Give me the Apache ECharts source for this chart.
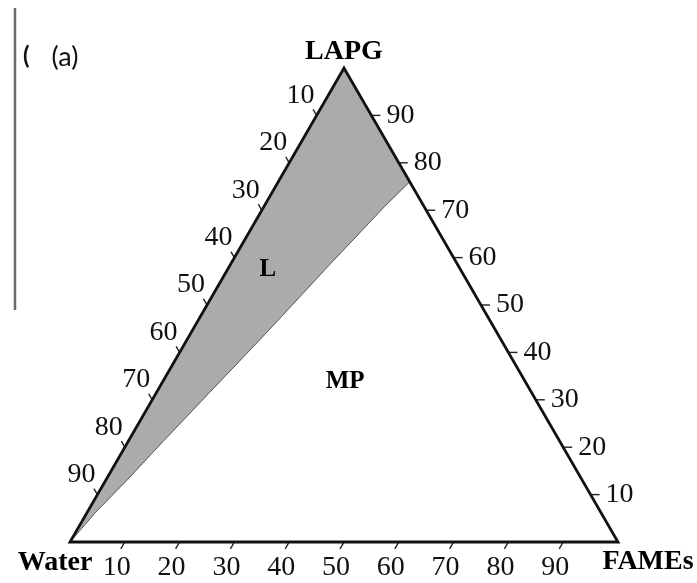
<!DOCTYPE html>
<html><head><meta charset="utf-8">
<script src="https://cdn.jsdelivr.net/npm/echarts@6/dist/echarts.min.js"></script>
<style>html,body{margin:0;padding:0;background:#fff}#c{width:697px;height:583px}</style>
</head><body><div id="c"></div>
<script>
// ---- data (ternary percentages) ----
const vertexNames = ['Water', 'FAMEs', 'LAPG'];
const vertexLAPG  = [0, 0, 100];
const vertexFAMEs = [0, 100, 0];
const tickValues  = [10, 20, 30, 40, 50, 60, 70, 80, 90];
// boundary of the L region, from the Water corner up to the LAPG–FAMEs side
const boundaryLAPG  = [0, 6.1, 13.1, 20, 31.4, 42, 47.5, 57.8, 70.7, 76];
const boundaryFAMEs = [0, 1.5, 3.9, 6, 9.65, 13.1, 14.8, 17.9, 22, 24];
const regionNames = ['L', 'MP'];
const regionLAPG  = [57.4, 33.8];
const regionFAMEs = [7.4, 33.3];

// ---- ternary -> cartesian (axis units) ----
const SQ = Math.sqrt(3) / 2;
function toXY(lapg, fames) { return [fames + lapg / 2, lapg * SQ]; }

const serif = '"Liberation Serif","DejaVu Serif",serif';

const chart = echarts.init(document.getElementById('c'), null, {renderer: 'canvas'});

const regionPts = boundaryLAPG.map((l, i) => toXY(l, boundaryFAMEs[i]));
regionPts.push(toXY(100, 0));

const triPts = [0, 1, 2].map(i => toXY(vertexLAPG[i], vertexFAMEs[i]));

const bottomTicks = tickValues.map(v => toXY(0, v));           // FAMEs %
const leftTicks   = tickValues.map(v => toXY(100 - v, 0));     // Water %
const rightTicks  = tickValues.map(v => toXY(v, 100 - v));     // LAPG %

function tickSeries(bases, dx, dy) {
  return {
    type: 'custom', coordinateSystem: 'cartesian2d', silent: true, z: 4,
    data: bases,
    renderItem: function (params, api) {
      const p = api.coord([api.value(0), api.value(1)]);
      return {type: 'line', shape: {x1: p[0], y1: p[1], x2: p[0] + dx, y2: p[1] + dy},
              style: {stroke: '#222', lineWidth: 1.4}};
    }
  };
}
function labelSeries(bases, values, ox, oy) {
  return {
    type: 'scatter', symbolSize: 0, silent: true, z: 6,
    itemStyle: {opacity: 1},
    data: bases.map((b, i) => ({value: b, name: String(values[i])})),
    label: {show: true, position: 'inside', offset: [ox, oy], opacity: 1,
            formatter: p => p.name, color: '#111', textBorderWidth: 0,
            fontFamily: serif, fontSize: 28, fontWeight: 'normal',
            align: 'center', verticalAlign: 'middle'}
  };
}

const option = {
  animation: false,
  grid: {left: 70, right: 79, top: 68, bottom: 41},
  xAxis: {type: 'value', min: 0, max: 100, show: false},
  yAxis: {type: 'value', min: 0, max: 100 * SQ, show: false},
  graphic: [
    {type: 'line', shape: {x1: 15, y1: 8, x2: 15, y2: 310}, style: {stroke: '#6a6a6a', lineWidth: 2.5}},
    {type: 'text', x: 23, y: 56, style: {text: '(', font: 'bold 24px Lato, "Open Sans", sans-serif', fill: '#111', align: 'left', verticalAlign: 'middle'}},
    {type: 'text', x: 65, y: 57, style: {text: '(a)', font: '27px Lato, "Open Sans", sans-serif', fill: '#111', align: 'center', verticalAlign: 'middle'}}
  ],
  series: [
    {
      type: 'custom', coordinateSystem: 'cartesian2d', silent: true, z: 1,
      data: [[0, 0]],
      renderItem: function (params, api) {
        return {type: 'polygon', shape: {points: regionPts.map(p => api.coord(p))},
                style: {fill: '#ababab', stroke: '#555', lineWidth: 1}};
      }
    },
    {
      type: 'custom', coordinateSystem: 'cartesian2d', silent: true, z: 5,
      data: [[0, 0]],
      renderItem: function (params, api) {
        return {type: 'polygon', shape: {points: triPts.map(p => api.coord(p))},
                style: {fill: 'none', stroke: '#111', lineWidth: 2.8, lineJoin: 'miter'}};
      }
    },
    tickSeries(bottomTicks, -4, 8 * SQ),
    tickSeries(leftTicks, -3.5, -7 * SQ),
    tickSeries(rightTicks, 9, 0),
    labelSeries(bottomTicks, tickValues, -8, 26),
    labelSeries(leftTicks, tickValues, -16, -20),
    labelSeries(rightTicks, tickValues, 29, 0),
    {
      type: 'scatter', symbolSize: 0, silent: true, z: 6,
      itemStyle: {opacity: 1},
      data: [
        {value: triPts[0], name: vertexNames[0], label: {offset: [-15, 21]}},
        {value: triPts[1], name: vertexNames[1], label: {offset: [30, 20]}},
        {value: triPts[2], name: vertexNames[2], label: {offset: [0, -16]}}
      ],
      label: {show: true, position: 'inside', formatter: p => p.name, color: '#000', textBorderWidth: 0, opacity: 1,
              fontFamily: serif, fontSize: 28, fontWeight: 'bold', align: 'center', verticalAlign: 'middle'}
    },
    {
      type: 'scatter', symbolSize: 0, silent: true, z: 6,
      itemStyle: {opacity: 1},
      data: regionNames.map((n, i) => ({value: toXY(regionLAPG[i], regionFAMEs[i]), name: n})),
      label: {show: true, position: 'inside', formatter: p => p.name, color: '#000', textBorderWidth: 0, opacity: 1,
              fontFamily: serif, fontSize: 25, fontWeight: 'bold', align: 'center', verticalAlign: 'middle'}
    }
  ]
};
chart.setOption(option);
</script>
</body></html>
